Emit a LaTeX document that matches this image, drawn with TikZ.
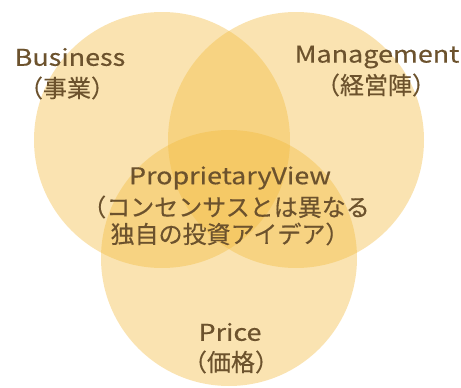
\documentclass[tikz,border=0pt]{standalone}
\usepackage{fontspec}
\setmainfont{Noto Sans CJK JP}[FakeBold=0.4]
\newfontfamily\widelat{Noto Sans CJK JP}[FakeStretch=1.17,FakeBold=0.4]
\definecolor{vfill}{RGB}{242,186,60}
\definecolor{vtext}{RGB}{108,82,45}
\begin{document}
\begin{tikzpicture}[x=1pt,y=-1pt,
  venn/.style={circle, fill=vfill, fill opacity=0.4, draw=none, minimum size=256pt, inner sep=0pt},
  lat/.style={text=vtext, inner sep=0pt, font=\widelat\fontsize{23}{27}\selectfont},
  jp/.style={text=vtext, inner sep=0pt, font=\fontsize{24}{28}\selectfont}]
\useasboundingbox (0,0) rectangle (461,388);
\node[venn] (cB) at (162,140) {};
\node[venn] (cM) at (296,140) {};
\node[venn] (cP) at (229,258) {};
\node[lat] (tB) at (70,57) {Business};
\node[jp] (jB) at (67,88) {（事業）};
\node[lat] (tM) at (377,57) {Management};
\node[jp] (jM) at (376,85) {（経営陣）};
\node[lat] (tV) at (230,178) {ProprietaryView};
\node[jp] (jV1) at (226,207) {（コンセンサスとは異なる};
\node[jp] (jV2) at (230,234) {独自の投資アイデア）};
\node[lat] (tP) at (230,332) {Price};
\node[jp] (jP) at (231,362) {（価格）};
\end{tikzpicture}
\end{document}
